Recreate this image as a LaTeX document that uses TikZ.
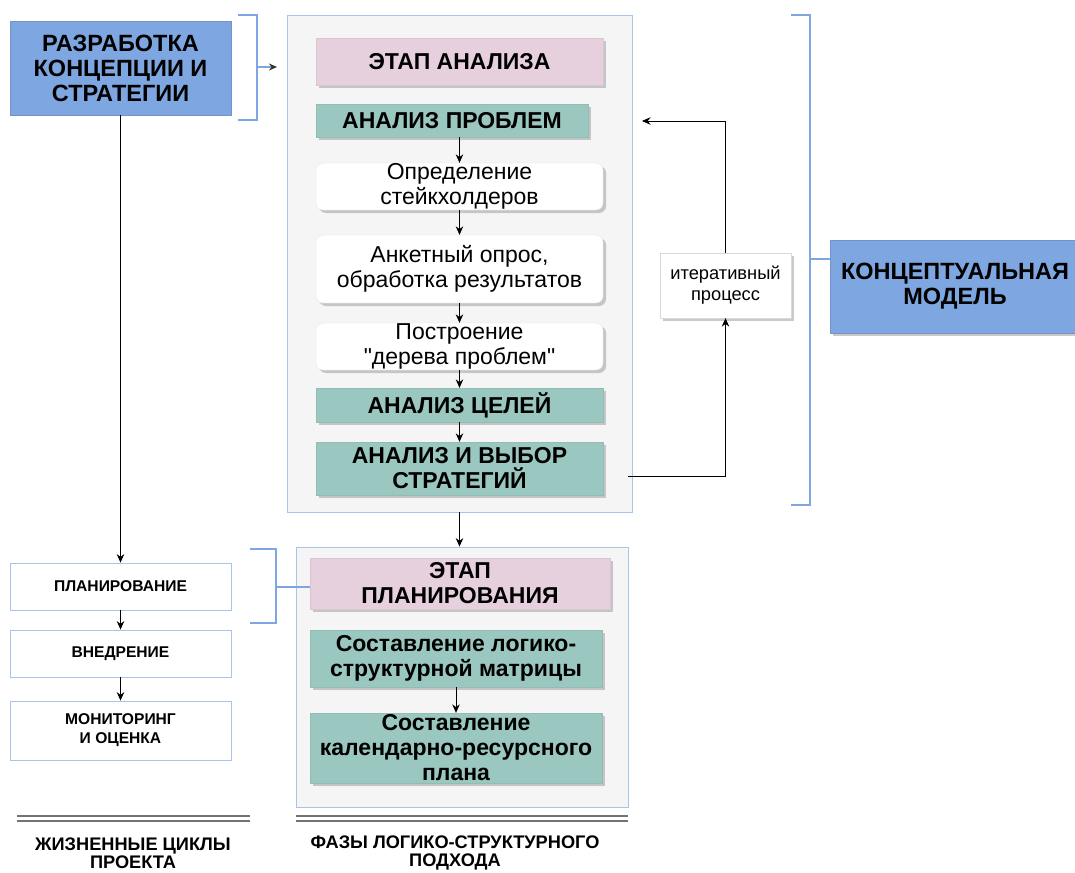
\documentclass[tikz,border=0pt]{standalone}
\usepackage{fontspec}
\setmainfont{Liberation Sans}
\usetikzlibrary{shadows,arrows.meta,calc}
\definecolor{cblue}{HTML}{7EA6E0}
\definecolor{cpink}{HTML}{E6D0DE}
\definecolor{cteal}{HTML}{9AC7BF}
\definecolor{cpanel}{HTML}{F5F5F5}
\definecolor{cpborder}{HTML}{A9C4EB}
\definecolor{cbrk}{HTML}{7EA6E0}
\newcommand\sq{\XeTeXglyph\XeTeXcharglyph"22\relax}
\begin{document}
\begin{tikzpicture}[x=1pt,y=-1pt,
  every node/.style={inner sep=0pt, align=center},
  shad/.style={drop shadow={shadow xshift=3pt, shadow yshift=-3pt, fill=black!30, opacity=0.7}},
  bigblue/.style={rectangle, fill=cblue, draw=cblue!90!black, line width=0.4pt, font=\fontsize{23.5}{25}\selectfont\bfseries},
  panel/.style={rectangle, fill=cpanel, draw=cpborder, line width=0.8pt},
  pinkbox/.style={rectangle, fill=cpink, draw=cpink!95!black, line width=0.3pt, shad, font=\fontsize{23}{25}\selectfont\bfseries},
  tealbox/.style={rectangle, fill=cteal, draw=cteal!95!black, line width=0.3pt, shad, font=\fontsize{23}{25}\selectfont\bfseries},
  whitebox/.style={rectangle, rounded corners=7pt, fill=white, draw=black!10, line width=0.3pt, shad, font=\fontsize{23}{24.5}\selectfont},
  lifebox/.style={rectangle, fill=white, draw=cpborder, line width=0.8pt, font=\fontsize{15.6}{19}\selectfont\bfseries},
  iterbox/.style={rectangle, fill=white, draw=black!15, line width=0.3pt, shad, font=\fontsize{18.3}{21}\selectfont},
  arr/.style={-{Stealth[length=8.5pt,width=7.5pt]}, line width=0.9pt, black},
  brk/.style={cbrk, line width=1.6pt},
  dbl/.style={black!55, line width=1.5pt},
  caption/.style={font=\fontsize{18.2}{18.5}\selectfont\bfseries}
]
\useasboundingbox (0,0) rectangle (1075,872);

% left column
\node[bigblue, minimum width=221pt, minimum height=94pt] (concept) at (120.5,68) {РАЗРАБОТКА\\КОНЦЕПЦИИ И\\СТРАТЕГИИ};
\node[lifebox, minimum width=221pt, minimum height=47pt] (plan) at (120.5,586.5) {ПЛАНИРОВАНИЕ};
\node[lifebox, minimum width=221pt, minimum height=47pt] (impl) at (120.5,653.5) {ВНЕДРЕНИЕ};
\node[lifebox, minimum width=221pt, minimum height=59pt] (monit) at (120.5,730.5) {МОНИТОРИНГ\\И ОЦЕНКА};

% analysis panel
\node[panel, minimum width=345pt, minimum height=497pt] (panelA) at (459.5,263.5) {};
\node[pinkbox, minimum width=287pt, minimum height=47pt] (etapA) at (459.5,61.5) {ЭТАП АНАЛИЗА};
\node[tealbox, minimum width=272pt, minimum height=33pt] (probl) at (452,120.5) {АНАЛИЗ ПРОБЛЕМ};
\node[whitebox, minimum width=287pt, minimum height=47pt] (stake) at (459.5,186.5) {Определение\\стейкхолдеров};
\node[whitebox, minimum width=287pt, minimum height=68pt] (survey) at (459.5,269) {Анкетный опрос,\\обработка результатов};
\node[whitebox, minimum width=287pt, minimum height=47pt] (tree) at (459.5,346.5) {Построение\\\sq дерева проблем\sq};
\node[tealbox, minimum width=287pt, minimum height=34pt] (goals) at (459.5,405) {АНАЛИЗ ЦЕЛЕЙ};
\node[tealbox, minimum width=287pt, minimum height=53pt] (strat) at (459.5,468.5) {АНАЛИЗ И ВЫБОР\\СТРАТЕГИЙ};

% planning panel
\node[panel, minimum width=332pt, minimum height=260pt] (panelP) at (462,677) {};
\node[pinkbox, minimum width=300pt, minimum height=51pt] (etapP) at (460,583.5) {ЭТАП\\ПЛАНИРОВАНИЯ};
\node[tealbox, minimum width=292pt, minimum height=57pt] (matrix) at (456,658.5) {Составление логико-\\структурной матрицы};
\node[tealbox, minimum width=292pt, minimum height=70pt] (calendar) at (456,748) {Составление\\календарно-ресурсного\\плана};

% right side
\node[iterbox, minimum width=131pt, minimum height=65pt] (iter) at (725.5,285.5) {итеративный\\процесс};
\node[bigblue, minimum width=250pt, minimum height=93pt, shad] (model) at (955,286.5) {КОНЦЕПТУАЛЬНАЯ\\МОДЕЛЬ};

% captions
\node[caption] (cap1) at (133,853) {ЖИЗНЕННЫЕ ЦИКЛЫ\\ПРОЕКТА};
\node[caption] (cap2) at (455,853) {ФАЗЫ ЛОГИКО-СТРУКТУРНОГО\\ПОДХОДА};

% arrows in analysis panel
\draw[arr] (probl.south -| stake.north) -- (stake.north);
\draw[arr] (stake.south) -- (survey.north);
\draw[arr] (survey.south) -- (tree.north);
\draw[arr] (tree.south) -- (goals.north);
\draw[arr] (goals.south) -- (strat.north);
\draw[arr] (panelA.south) -- (panelA.south |- panelP.north);
\draw[arr] (matrix.south) -- (calendar.north);

% left column arrows
\draw[arr] (concept.south) -- (plan.north);
\draw[arr] (plan.south) -- (impl.north);
\draw[arr] (impl.south) -- (monit.north);

% iterative loop
\coordinate (loopstart) at (628,476);
\coordinate (loopend) at (642,121);
\draw[arr] (loopstart) -| (iter.south);
\draw[arr] (iter.north) |- (loopend);

% brackets
\coordinate (b1tip) at (277,67);
\draw[brk] (238,15) -- (257,15) -- (257,120) -- (238,120);
\draw[brk, -{Stealth[length=8pt,width=7pt,color=black!80]}] (257,67) -- (b1tip);
\draw[brk] (791,15) -- (810,15) -- (810,505) -- (791,505);
\draw[brk] (810,259) -- (model.west |- 0,259);
\draw[brk] (250,549) -- (276,549) -- (276,623) -- (250,623);
\draw[brk] (276,587) -- (etapP.west |- 0,587);

% double lines
\draw[dbl] (17,816) -- (250,816);
\draw[dbl] (17,821) -- (250,821);
\draw[dbl] (296,816) -- (628,816);
\draw[dbl] (296,821) -- (628,821);
\end{tikzpicture}
\end{document}
